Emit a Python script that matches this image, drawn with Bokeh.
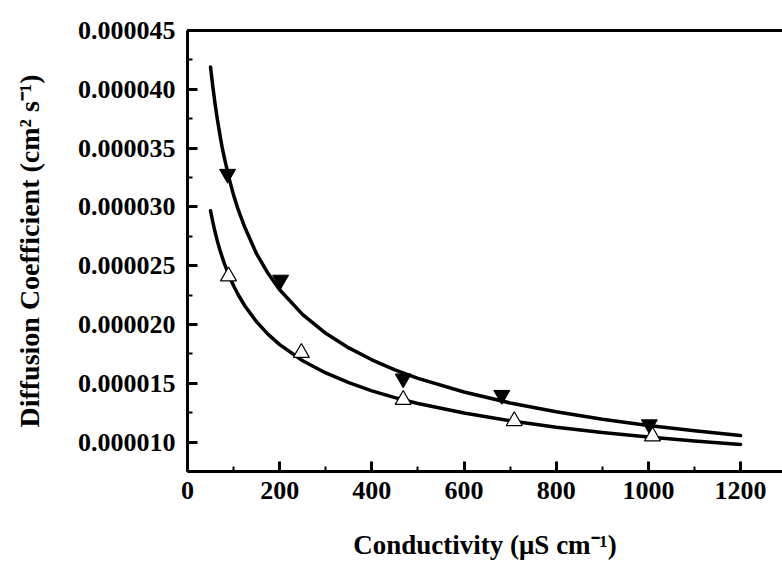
from bokeh.plotting import figure
from bokeh.models import Range1d, LinearAxis, SingleIntervalTicker, PrintfTickFormatter
from bokeh.embed import file_html
from bokeh.resources import INLINE

# ---- data ----
filled_x = [87, 202, 468, 682, 1002]
filled_y = [32.8e-6, 23.8e-6, 15.4e-6, 14.0e-6, 11.5e-6]

open_x = [89, 247, 468, 709, 1009]
open_y = [24.1e-6, 17.6e-6, 13.6e-6, 11.8e-6, 10.5e-6]

curve_x = [50, 55, 60, 65, 70, 75, 80, 90, 100, 110, 125, 150, 175, 200,
           250, 300, 350, 400, 450, 500, 600, 700, 800, 900, 1000, 1100, 1200]
upper_curve_y = [41.9e-6, 40.2e-6, 38.7e-6, 37.39e-6, 36.21e-6, 35.1e-6,
                 34.17e-6, 32.46e-6, 31.0e-6, 29.76e-6, 28.2e-6, 26.0e-6,
                 24.33e-6, 22.96e-6, 20.84e-6, 19.25e-6, 18.01e-6, 17.0e-6,
                 16.14e-6, 15.42e-6, 14.26e-6, 13.33e-6, 12.58e-6, 11.95e-6,
                 11.42e-6, 10.96e-6, 10.56e-6]
lower_curve_y = [29.67e-6, 28.70e-6, 27.84e-6, 27.07e-6, 26.38e-6, 25.76e-6,
                 25.18e-6, 24.17e-6, 23.29e-6, 22.53e-6, 21.55e-6, 20.22e-6,
                 19.16e-6, 18.29e-6, 16.92e-6, 15.88e-6, 15.05e-6, 14.36e-6,
                 13.78e-6, 13.28e-6, 12.47e-6, 11.81e-6, 11.27e-6, 10.82e-6,
                 10.43e-6, 10.09e-6, 9.80e-6]

x_title = "Conductivity (\u03bcS cm\u207b\u00b9)"
y_title = "Diffusion Coefficient (cm\u00b2 s\u207b\u00b9)"

FONT = "Liberation Serif"

p = figure(width=782, height=565, output_backend="svg", toolbar_location=None,
           x_range=Range1d(0, 1291), y_range=Range1d(7.5e-6, 45e-6),
           x_axis_type=None, y_axis_type=None,
           min_border_left=187, min_border_right=0,
           min_border_top=30, min_border_bottom=94)
p.grid.visible = False
p.outline_line_color = None
p.background_fill_color = "white"
p.border_fill_color = "white"


def style_axis(ax):
    ax.axis_line_width = 3
    ax.axis_line_color = "black"
    ax.major_tick_line_width = 3
    ax.major_tick_in = 10
    ax.major_tick_out = 0
    ax.minor_tick_line_width = 2
    ax.minor_tick_in = 5
    ax.minor_tick_out = 0
    ax.major_label_text_font = FONT
    ax.major_label_text_font_style = "bold"
    ax.major_label_text_font_size = "26px"
    ax.major_label_text_color = "black"
    ax.axis_label_text_font = FONT
    ax.axis_label_text_font_style = "bold"
    ax.axis_label_text_color = "black"


xaxis = LinearAxis(ticker=SingleIntervalTicker(interval=200, num_minor_ticks=2),
                   axis_label=x_title)
style_axis(xaxis)
xaxis.major_label_standoff = 10
xaxis.axis_label_text_font_size = "27px"
xaxis.axis_label_standoff = 28
p.add_layout(xaxis, "below")

yaxis = LinearAxis(ticker=SingleIntervalTicker(interval=5e-6, num_minor_ticks=2),
                   formatter=PrintfTickFormatter(format="%.6f"),
                   axis_label=y_title)
style_axis(yaxis)
yaxis.major_label_standoff = 12
yaxis.axis_label_text_font_size = "28px"
yaxis.axis_label_standoff = 30
p.add_layout(yaxis, "left")

top = LinearAxis(ticker=SingleIntervalTicker(interval=200, num_minor_ticks=2))
top.axis_line_width = 3
top.major_tick_line_color = None
top.minor_tick_line_color = None
top.major_label_text_font_size = "1px"
top.major_label_text_color = None
top.major_label_standoff = 0
p.add_layout(top, "above")

# fitted curves
p.line(curve_x, upper_curve_y, line_color="black", line_width=3.5,
       line_cap="round", line_join="round")
p.line(curve_x, lower_curve_y, line_color="black", line_width=3.5,
       line_cap="round", line_join="round")

# markers
p.scatter(filled_x, filled_y, marker="inverted_triangle", size=16,
          fill_color="black", line_color="black", line_width=1)
p.scatter(open_x, open_y, marker="triangle", size=16,
          fill_color="white", line_color="black", line_width=1.2)

open("out.html", "w").write(file_html(p, INLINE))
